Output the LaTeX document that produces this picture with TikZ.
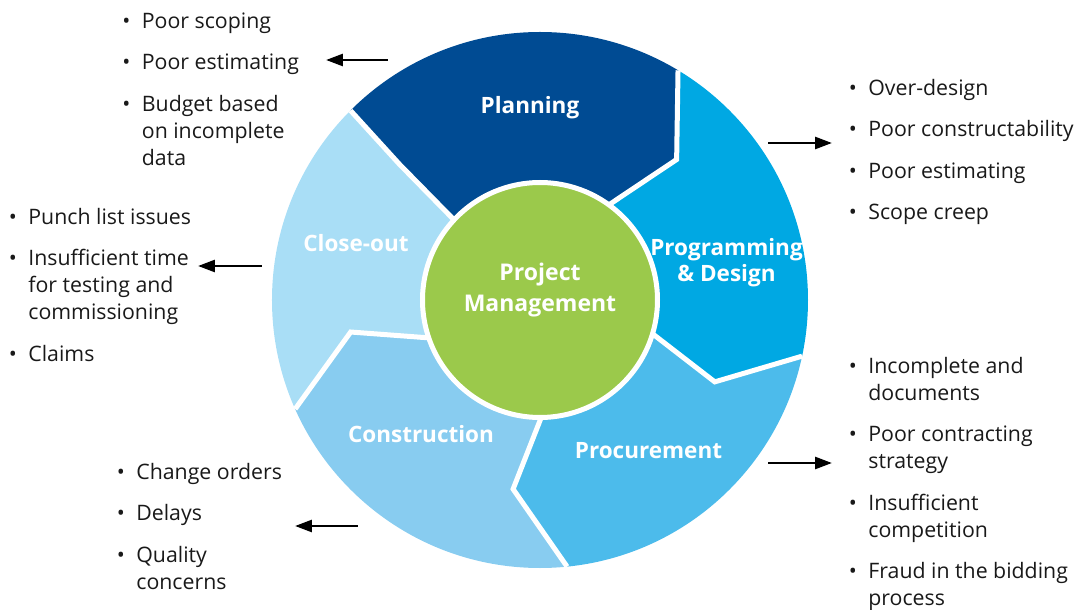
\documentclass[tikz,border=0pt]{standalone}
\usepackage{fontspec}
\setmainfont{Open Sans}
\usetikzlibrary{arrows.meta}

\definecolor{planblue}{HTML}{004B93}
\definecolor{progblue}{HTML}{00A8E3}
\definecolor{procblue}{HTML}{4CBBEB}
\definecolor{consblue}{HTML}{88CCF0}
\definecolor{closeblue}{HTML}{A9DEF6}
\definecolor{pmgreen}{HTML}{9BC94B}

\newcommand{\riskbul}{\strut\makebox[19.5pt][l]{\textbullet}}
\newcommand{\riskcont}{\strut\hspace*{19.5pt}}

\begin{document}
\begin{tikzpicture}[x=1pt, y=1pt, thick,
                    phase label/.style={text=white, inner sep=0pt, font=\fontsize{22.5}{26}\selectfont\bfseries},
                    risk list/.style={anchor=north west, align=left, inner sep=0pt, text=black!90, font=\fontsize{21.3}{27}\selectfont},
                    risk arrow/.style={line width=2.7pt, -{Triangle[length=17pt,width=12pt]}},
                    divider/.style={white, line width=5pt, line join=miter},
                    hub/.style={circle, fill=pmgreen, draw=white, line width=5pt, minimum size=235pt, inner sep=0pt}]
    \useasboundingbox (-540,-310) rectangle (539,300);

    \coordinate (b1i) at (137:118);
    \coordinate (b1m) at (136:195);
    \coordinate (b1o) at (135:268);
    \coordinate (b2i) at (54:118);
    \coordinate (b2m) at (45.8:196);
    \coordinate (b2o) at (59:268);
    \coordinate (b3i) at (-16.8:118);
    \coordinate (b3m) at (-25.1:193);
    \coordinate (b3o) at (-12.1:268);
    \coordinate (b4i) at (-89.5:118);
    \coordinate (b4m) at (-98.1:191);
    \coordinate (b4o) at (-84.2:268);
    \coordinate (b5i) at (198.7:118);
    \coordinate (b5m) at (189.6:192);
    \coordinate (b5o) at (204:268);

    \begin{scope}
        \clip (0,0) circle (268);
        \fill[planblue] (0,0) -- (b1i) -- (b1m) -- (b1o) -- (135:400) -- (97:400) -- (59:400) -- (b2o) -- (b2m) -- (b2i) -- cycle;
        \fill[progblue] (0,0) -- (b2i) -- (b2m) -- (b2o) -- (59:400) -- (23:400) -- (-12.1:400) -- (b3o) -- (b3m) -- (b3i) -- cycle;
        \fill[procblue] (0,0) -- (b3i) -- (b3m) -- (b3o) -- (-12.1:400) -- (-48:400) -- (-84.2:400) -- (b4o) -- (b4m) -- (b4i) -- cycle;
        \fill[consblue] (0,0) -- (b4i) -- (b4m) -- (b4o) -- (-84.2:400) -- (-120:400) -- (-156:400) -- (b5o) -- (b5m) -- (b5i) -- cycle;
        \fill[closeblue] (0,0) -- (b5i) -- (b5m) -- (b5o) -- (204:400) -- (170:400) -- (135:400) -- (b1o) -- (b1m) -- (b1i) -- cycle;
    \end{scope}

    \draw[divider] (b1i) -- (b1m) -- (b1o);
    \draw[divider] (b2i) -- (b2m) -- (b2o);
    \draw[divider] (b3i) -- (b3m) -- (b3o);
    \draw[divider] (b4i) -- (b4m) -- (b4o);
    \draw[divider] (b5i) -- (b5m) -- (b5o);

    \node[hub] (pm) at (0,0) {};
    \node[phase label, align=center, font=\fontsize{23}{31.5}\selectfont\bfseries] (pmtext) at (0,10.5) {\strut Project\\\strut Management};

    \node[phase label, anchor=base] (plan) at (-10,186) {Planning};
    \node[phase label, align=center] (prog) at (186.5,36.2) {\strut Programming\\\strut \& Design};
    \node[phase label, anchor=base] (proc) at (108.5,-158.3) {Procurement};
    \node[phase label, anchor=base] (cons) at (-119,-142.7) {Construction};
    \node[phase label, anchor=base] (close) at (-184,48.3) {Close-out};

    \node[risk list] (planlist) at (-418,290.9) {\riskbul Poor scoping\\[14.5pt]\riskbul Poor estimating\\[14.5pt]\riskbul Budget based\\\riskcont on incomplete\\\riskcont data};
    \node[risk list] (proglist) at (308.5,223.9) {\riskbul Over-design\\[14.5pt]\riskbul Poor constructability\\[14.5pt]\riskbul Poor estimating\\[14.5pt]\riskbul Scope creep};
    \node[risk list] (proclist) at (308.5,-54.1) {\riskbul Incomplete and\\\riskcont documents\\[14.5pt]\riskbul Poor contracting\\\riskcont strategy\\[14.5pt]\riskbul Insufficient\\\riskcont competition\\[14.5pt]\riskbul Fraud in the bidding\\\riskcont process};
    \node[risk list] (closelist) at (-531.5,94.9) {\riskbul Punch list issues\\[14.5pt]\riskbul Insufficient time\\\riskcont for testing and\\\riskcont commissioning\\[14.5pt]\riskbul Claims};
    \node[risk list] (conslist) at (-423.5,-160.1) {\riskbul Change orders\\[14.5pt]\riskbul Delays\\[14.5pt]\riskbul Quality\\\riskcont concerns};

    \coordinate (plantail) at (-152,240);
    \coordinate (planhead) at (-214,240);
    \coordinate (progtail) at (228,157);
    \coordinate (proghead) at (292,157);
    \coordinate (proctail) at (228,-163);
    \coordinate (prochead) at (292,-163);
    \coordinate (closetail) at (-278,34);
    \coordinate (closehead) at (-342,34);
    \coordinate (constail) at (-182,-226);
    \coordinate (conshead) at (-245,-226);

    \path[risk arrow]
        (plantail) edge (planhead)
        (progtail) edge (proghead)
        (proctail) edge (prochead)
        (closetail) edge (closehead)
        (constail) edge (conshead);
\end{tikzpicture}
\end{document}
